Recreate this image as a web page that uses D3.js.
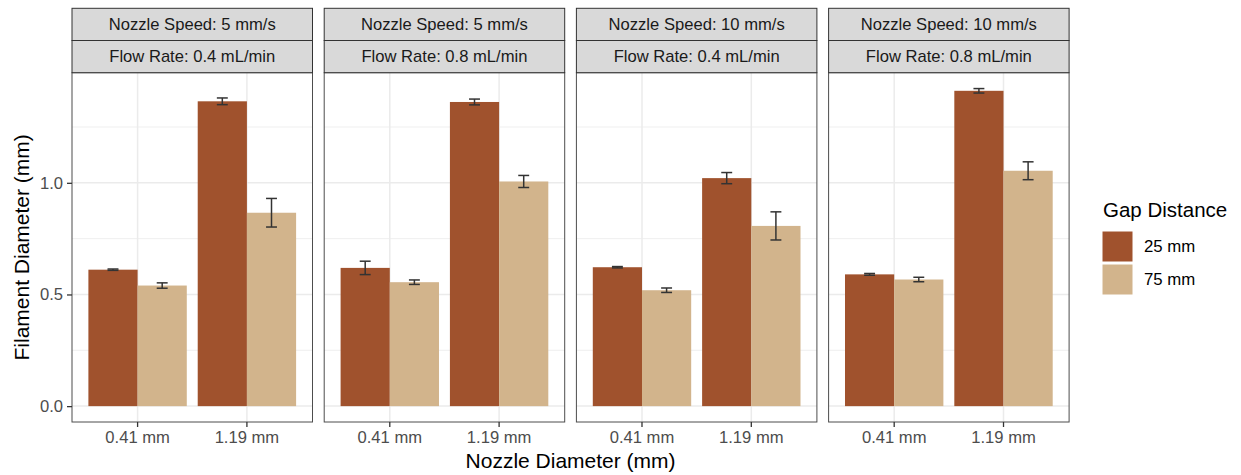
<!DOCTYPE html>
<html><head><meta charset="utf-8">
<script src="https://cdn.jsdelivr.net/npm/d3@7"></script>
<style>body{margin:0;background:#fff}svg{display:block}text{font-family:"Liberation Sans",Arial,sans-serif}</style>
</head><body>
<svg id="c" width="1241" height="475"></svg>
<script>
const speeds = ["Nozzle Speed: 5 mm/s","Nozzle Speed: 5 mm/s","Nozzle Speed: 10 mm/s","Nozzle Speed: 10 mm/s"];
const flows = ["Flow Rate: 0.4 mL/min","Flow Rate: 0.8 mL/min","Flow Rate: 0.4 mL/min","Flow Rate: 0.8 mL/min"];
const nozzles = ["0.41 mm","1.19 mm"];
const gaps = ["25 mm","75 mm"];
// mean values per panel: [0.41/25, 0.41/75, 1.19/25, 1.19/75]
const means = [
  [0.611, 0.540, 1.365, 0.866],
  [0.619, 0.555, 1.362, 1.006],
  [0.622, 0.519, 1.021, 0.807],
  [0.590, 0.567, 1.412, 1.054]
];
const errs = [
  [0.003, 0.012, 0.015, 0.064],
  [0.030, 0.010, 0.013, 0.027],
  [0.003, 0.010, 0.025, 0.063],
  [0.004, 0.010, 0.010, 0.040]
];
const yTicks = [0.0, 0.5, 1.0];
const yMinor = [0.25, 0.75, 1.25];
const colors = ["#A0522D", "#D2B48C"];

const svg = d3.select("#c");
const panelLeft = 72, panelW = 240.5, gapW = 11.7;
const stripTop = 8.3, stripH = 32.2;
const plotTop = stripTop + 2*stripH, plotBottom = 422;

const maxV = d3.max(means.flat().map((m,i)=>m + errs.flat()[i]));
const y = d3.scaleLinear().domain([-0.05*maxV, 1.05*maxV]).range([plotBottom, plotTop]);

const fill = d3.scaleOrdinal().domain(gaps).range(colors);

means.forEach((pm, p) => {
  const x0 = panelLeft + p*(panelW + gapW);
  const x = d3.scaleBand().domain(nozzles).range([x0, x0+panelW]).paddingInner(0.1).paddingOuter(0.15);
  const xs = d3.scaleBand().domain(gaps).range([0, x.bandwidth()]);
  const g = svg.append("g");
  // background grid
  g.selectAll(".minor").data(yMinor).join("line")
    .attr("x1", x0).attr("x2", x0+panelW).attr("y1", d=>y(d)).attr("y2", d=>y(d))
    .attr("stroke", "#EBEBEB").attr("stroke-width", 0.8);
  g.selectAll(".major").data(yTicks).join("line")
    .attr("x1", x0).attr("x2", x0+panelW).attr("y1", d=>y(d)).attr("y2", d=>y(d))
    .attr("stroke", "#EBEBEB").attr("stroke-width", 1.5);
  g.selectAll(".vmajor").data(nozzles).join("line")
    .attr("x1", d=>x(d)+x.bandwidth()/2).attr("x2", d=>x(d)+x.bandwidth()/2)
    .attr("y1", plotTop).attr("y2", plotBottom)
    .attr("stroke", "#EBEBEB").attr("stroke-width", 1.5);
  // bars
  const recs = [];
  nozzles.forEach((n, ni) => gaps.forEach((gp, gi) => {
    recs.push({n, gp, v: pm[ni*2+gi], e: errs[p][ni*2+gi]});
  }));
  g.selectAll("rect.bar").data(recs).join("rect")
    .attr("x", d=>x(d.n)+xs(d.gp)).attr("width", xs.bandwidth())
    .attr("y", d=>y(d.v)).attr("height", d=>y(0)-y(d.v))
    .attr("fill", d=>fill(d.gp));
  // error bars
  const capW = x.step()*0.1/2;
  const eb = g.selectAll("g.eb").data(recs).join("g").attr("stroke", "#333").attr("stroke-width", 1.5).attr("fill","none");
  eb.append("line").attr("x1", d=>x(d.n)+xs(d.gp)+xs.bandwidth()/2).attr("x2", d=>x(d.n)+xs(d.gp)+xs.bandwidth()/2)
    .attr("y1", d=>y(d.v-d.e)).attr("y2", d=>y(d.v+d.e));
  eb.append("line").attr("x1", d=>x(d.n)+xs(d.gp)+xs.bandwidth()/2-capW).attr("x2", d=>x(d.n)+xs(d.gp)+xs.bandwidth()/2+capW)
    .attr("y1", d=>y(d.v+d.e)).attr("y2", d=>y(d.v+d.e));
  eb.append("line").attr("x1", d=>x(d.n)+xs(d.gp)+xs.bandwidth()/2-capW).attr("x2", d=>x(d.n)+xs(d.gp)+xs.bandwidth()/2+capW)
    .attr("y1", d=>y(d.v-d.e)).attr("y2", d=>y(d.v-d.e));
  // panel border
  g.append("rect").attr("x", x0).attr("y", plotTop).attr("width", panelW).attr("height", plotBottom-plotTop)
    .attr("fill","none").attr("stroke","#4d4d4d").attr("stroke-width",1);
  // strips
  [speeds[p], flows[p]].forEach((lab, si) => {
    g.append("rect").attr("x", x0).attr("y", stripTop + si*stripH).attr("width", panelW).attr("height", stripH)
      .attr("fill","#D9D9D9").attr("stroke","#333").attr("stroke-width",1);
    g.append("text").attr("x", x0+panelW/2).attr("y", stripTop + si*stripH + stripH/2).attr("dy","0.35em")
      .attr("text-anchor","middle").attr("font-size", 16.6).attr("fill","#1A1A1A").text(lab);
  });
  // x axis
  const xa = g.append("g").attr("transform", `translate(0,${plotBottom})`)
    .call(d3.axisBottom(x).tickSize(5).tickPadding(4));
  xa.select(".domain").remove();
  xa.selectAll(".tick line").attr("stroke","#333").attr("stroke-width",1.3);
  xa.selectAll(".tick text").attr("font-size",16.6).attr("fill","#4D4D4D").attr("font-family",'"Liberation Sans",Arial,sans-serif');
  if (p === 0) {
    const ya = g.append("g").attr("transform", `translate(${x0},0)`)
      .call(d3.axisLeft(y).tickValues(yTicks).tickFormat(d3.format(".1f")).tickSize(5).tickPadding(4));
    ya.select(".domain").remove();
    ya.selectAll(".tick line").attr("stroke","#333").attr("stroke-width",1.3);
    ya.selectAll(".tick text").attr("font-size",16.6).attr("fill","#4D4D4D").attr("font-family",'"Liberation Sans",Arial,sans-serif');
  }
});

// axis titles
const plotRight = panelLeft + 4*panelW + 3*gapW;
svg.append("text").attr("x", (panelLeft+plotRight)/2).attr("y", 468).attr("text-anchor","middle")
  .attr("font-size", 21).attr("fill","#000").text("Nozzle Diameter (mm)");
svg.append("text").attr("transform", `translate(29,${(plotTop+plotBottom)/2}) rotate(-90)`).attr("text-anchor","middle")
  .attr("font-size", 21).attr("fill","#000").text("Filament Diameter (mm)");

// legend
const lg = svg.append("g").attr("transform","translate(1102,0)");
lg.append("text").attr("x", 1).attr("y", 217).attr("font-size", 20.5).attr("fill","#000").text("Gap Distance");
lg.selectAll("rect").data(gaps).join("rect")
  .attr("x", 0).attr("y", (d,i)=>231 + i*33).attr("width", 31).attr("height", 31)
  .attr("fill", d=>fill(d)).attr("stroke","#fff").attr("stroke-width",1);
lg.selectAll("text.l").data(gaps).join("text").attr("class","l")
  .attr("x", 42).attr("y", (d,i)=>246.5 + i*33).attr("dy","0.35em")
  .attr("font-size", 16.8).attr("fill","#000").text(d=>d);
</script>
</body></html>
